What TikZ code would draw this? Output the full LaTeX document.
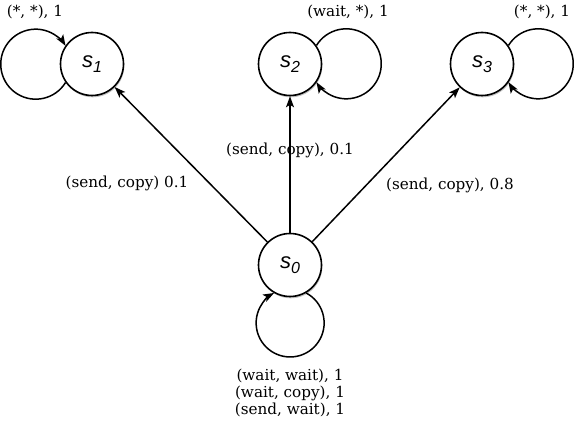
\documentclass[tikz,border=0pt]{standalone}
\usepackage{fontspec}
\setmainfont{DejaVu Serif}
\newfontfamily\nodefont{Liberation Sans}
\usetikzlibrary{arrows.meta,shadows,calc}
\begin{document}
\begin{tikzpicture}[x=1pt,y=1pt,
  state/.style={circle,draw,line width=1.6pt,fill=white,minimum size=63pt,inner sep=0pt,
    drop shadow={shadow xshift=0.8pt,shadow yshift=-1.8pt,opacity=0.4,fill=black!60}},
  tr/.style={line width=1.5pt,-{Stealth[length=11pt,width=8pt,inset=2.5pt]}},
  lab/.style={font=\fontsize{15.2}{17}\selectfont,inner sep=0pt,align=center}]
\useasboundingbox (0,0) rectangle (578,422);
\newcommand{\stname}[1]{\nodefont\itshape\fontsize{22}{22}\selectfont s\raisebox{-0.45ex}{\fontsize{16}{16}\selectfont #1}}
\node[state] (s1) at (92,358) {\stname{1}};
\node[state] (s2) at (290,358) {\stname{2}};
\node[state] (s3) at (482,358) {\stname{3}};
\node[state] (s0) at (290,157) {\stname{0}};
% loops
\draw[tr] (s1.215) arc[start angle=-31.6,end angle=-328.4,radius=35];
\draw[tr] (s2.35) arc[start angle=148.4,end angle=-148.4,radius=35];
\draw[tr] (s3.35) arc[start angle=148.4,end angle=-148.4,radius=35];
\draw[tr] (s0.-60) arc[start angle=61.9,end angle=-241.9,radius=34];
% edges
\draw[tr] (s0) -- (s1);
\draw[tr] (s0) -- (s2);
\draw[tr] (s0) -- (s3);
% labels
\node[lab] (l01) at (127,239) {(send, copy) 0.1};
\node[lab] (l02) at (290,272) {(send, copy), 0.1};
\node[lab] (l03) at (450,237) {(send, copy), 0.8};
\node[lab] (l11) at (35,410) {(*, *), 1};
\node[lab] (l22) at (348,410) {(wait, *), 1};
\node[lab] (l33) at (542,410) {(*, *), 1};
\node[lab] (l00) at (290,29) {(wait, wait), 1\\(wait, copy), 1\\(send, wait), 1};
\end{tikzpicture}
\end{document}
